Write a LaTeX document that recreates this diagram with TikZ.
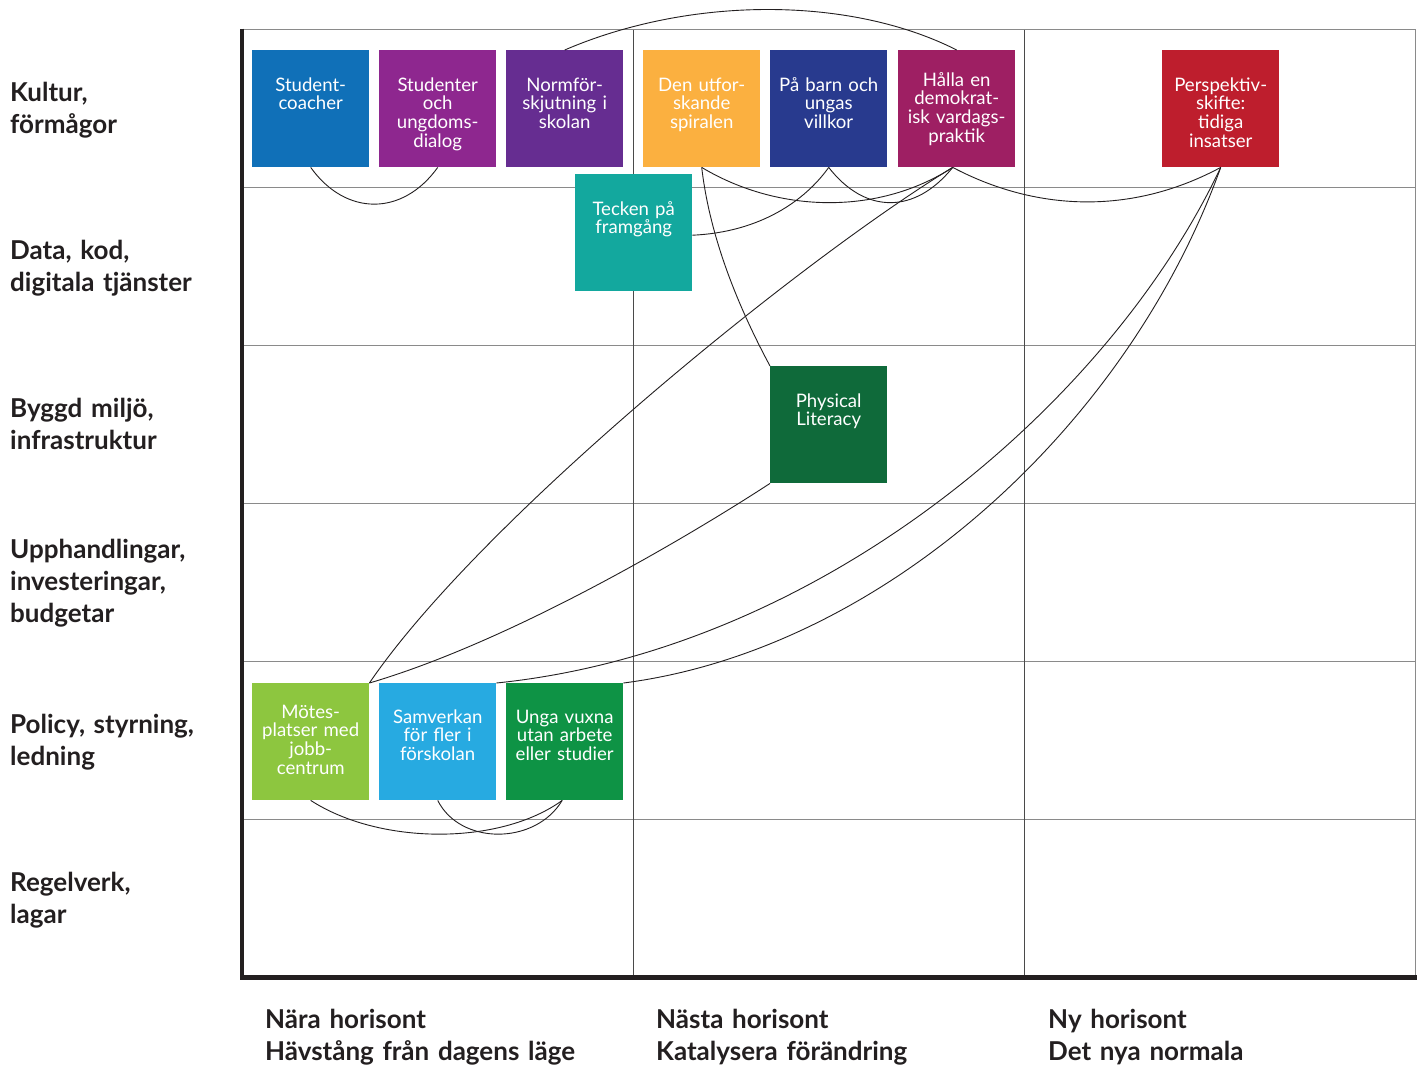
\documentclass[tikz,border=0pt]{standalone}
\usepackage{fontspec}
\setmainfont{Lato}
\definecolor{cSC}{HTML}{1070B8}
\definecolor{cSO}{HTML}{8E278F}
\definecolor{cNF}{HTML}{662D91}
\definecolor{cDU}{HTML}{FBB040}
\definecolor{cPB}{HTML}{283A8E}
\definecolor{cHE}{HTML}{9E1F63}
\definecolor{cPS}{HTML}{BE1E2D}
\definecolor{cTF}{HTML}{13A89E}
\definecolor{cPL}{HTML}{0F6A3A}
\definecolor{cMP}{HTML}{8DC63F}
\definecolor{cSV}{HTML}{27AAE1}
\definecolor{cUV}{HTML}{0E9345}
\definecolor{ink}{HTML}{231F20}
\definecolor{gridgray}{HTML}{8A8A8A}
\definecolor{griddark}{HTML}{4A4A4A}
\begin{document}
\begin{tikzpicture}[x=1pt,y=-1pt,
  box/.style={draw=none, minimum width=117pt, minimum height=117pt, inner sep=0pt, anchor=north west},
  btext/.style={text=white, font=\fontsize{18.6}{18.7}\selectfont, align=center, text width=117pt, inner sep=0pt, anchor=base},
  link/.style={draw=ink, line width=0.9pt},
  catlabel/.style={font=\bfseries\fontsize{26}{32}\selectfont, text=ink, align=left, text width=230pt, inner sep=0pt, anchor=base west},
  hlabel/.style={font=\bfseries\fontsize{26}{32}\selectfont, text=ink, align=left, text width=360pt, inner sep=0pt, anchor=base west},
  gridh/.style={draw=gridgray, line width=1.8pt},
  gridv/.style={draw=griddark, line width=1.1pt}
]
\useasboundingbox (0,0) rectangle (1421,1066);
\fill[white] (0,0) rectangle (1421,1066);

% grid
\foreach \i in {0,...,5} \draw[gridh] (241,{29.5+158*\i}) -- (1416,{29.5+158*\i});
\draw[gridv] (633.5,29.5) -- (633.5,977);
\draw[gridv] (1024.5,29.5) -- (1024.5,977);
\draw[draw=gridgray, line width=1.5pt] (1415.5,29.5) -- (1415.5,977);
\draw[draw=ink, line width=4pt] (242,28.7) -- (242,979);
\draw[draw=ink, line width=4.5pt] (240,977.5) -- (1417,977.5);

% row labels
\node[catlabel] (r1) at (10,101) {Kultur,\\förmågor};
\node[catlabel] (r2) at (10,259) {Data, kod,\\digitala tjänster};
\node[catlabel] (r3) at (10,417) {Byggd miljö,\\infrastruktur};
\node[catlabel] (r4) at (10,558) {Upphandlingar,\\investeringar,\\budgetar};
\node[catlabel] (r5) at (10,733) {Policy, styrning,\\ledning};
\node[catlabel] (r6) at (10,891) {Regelverk,\\lagar};

% column labels
\node[hlabel] (c1) at (265,1028) {Nära horisont\\Hävstång från dagens läge};
\node[hlabel] (c2) at (656,1028) {Nästa horisont\\Katalysera förändring};
\node[hlabel] (c3) at (1048,1028) {Ny horisont\\Det nya normala};

% boxes
\node[box, fill=cSC] (sc) at (252,50) {};
\node[box, fill=cSO] (so) at (379,50) {};
\node[box, fill=cNF] (nf) at (506,50) {};
\node[box, fill=cDU] (du) at (643,50) {};
\node[box, fill=cPB] (pb) at (770,50) {};
\node[box, fill=cHE] (he) at (898,50) {};
\node[box, fill=cPS] (ps) at (1162,50) {};
\node[box, fill=cTF] (tk) at (575,174) {};
\node[box, fill=cPL] (pl) at (770,366) {};
\node[box, fill=cMP] (mp) at (252,683) {};
\node[box, fill=cSV] (sv) at (379,683) {};
\node[box, fill=cUV] (uv) at (506,683) {};

\coordinate (heS) at ([xshift=-4pt]he.south);
\coordinate (uvS) at ([xshift=-2.5pt]uv.south);
\coordinate (tkE) at ([yshift=-2.5pt]tk.east);

% connectors
\draw[link] (sc.south) .. controls +(35,49) and +(-35,49) .. (so.south);
\draw[link] (nf.north) .. controls +(125.5,-54) and +(-106.5,-54) .. (he.north);
\draw[link] (du.south) .. controls +(78.5,47) and +(-72.7,47) .. (heS);
\draw[link] (pb.south) .. controls +(36.5,47) and +(-37.7,47) .. (heS);
\draw[link] (pb.south) .. controls +(-23.5,33) and +(68,-3) .. (tkE);
\draw[link] (heS) .. controls +(87.3,46) and +(-85.5,46) .. (ps.south);
\draw[link] (du.south) .. controls +(8.5,73) and +(-30,-56) .. (pl.north west);
\draw[link] (heS) .. controls +(-152.7,93) and +(111,-163) .. (mp.north east);
\draw[link] (pl.south west) .. controls +(-75,49) and +(146,-43) .. (mp.north east);
\draw[link] (ps.south) .. controls +(-112.5,238) and +(324,-33) .. (sv.north east);
\draw[link] (ps.south) .. controls +(-93.5,261) and +(257,-33) .. (uv.north east);
\draw[link] (mp.south) .. controls +(69.5,45) and +(-62,45) .. (uvS);
\draw[link] (sv.south) .. controls +(22.5,45) and +(-27,45) .. (uvS);

% box texts
\node[btext] (sc-t) at ([yshift=-41pt]sc.north) {Student-\\coacher};
\node[btext] (so-t) at ([yshift=-41pt]so.north) {Studenter\\och\\ungdoms-\\dialog};
\node[btext] (nf-t) at ([yshift=-41pt]nf.north) {Normför-\\skjutning i\\skolan};
\node[btext] (du-t) at ([yshift=-41pt]du.north) {Den utfor-\\skande\\spiralen};
\node[btext] (pb-t) at ([yshift=-41pt]pb.north) {På barn och\\ungas\\villkor};
\node[btext] (he-t) at ([yshift=-36pt]he.north) {Hålla en\\demokrat-\\isk vardags-\\praktik};
\node[btext] (ps-t) at ([yshift=-41pt]ps.north) {Perspektiv-\\skifte:\\tidiga\\insatser};
\node[btext] (tk-t) at ([yshift=-41pt]tk.north) {Tecken på\\framgång};
\node[btext] (pl-t) at ([yshift=-41pt]pl.north) {Physical\\Literacy};
\node[btext] (mp-t) at ([yshift=-35pt]mp.north) {Mötes-\\platser med\\jobb-\\centrum};
\node[btext] (sv-t) at ([yshift=-40pt]sv.north) {Samverkan\\för fler i\\förskolan};
\node[btext] (uv-t) at ([yshift=-40pt]uv.north) {Unga vuxna\\utan arbete\\eller studier};
\end{tikzpicture}
\end{document}
